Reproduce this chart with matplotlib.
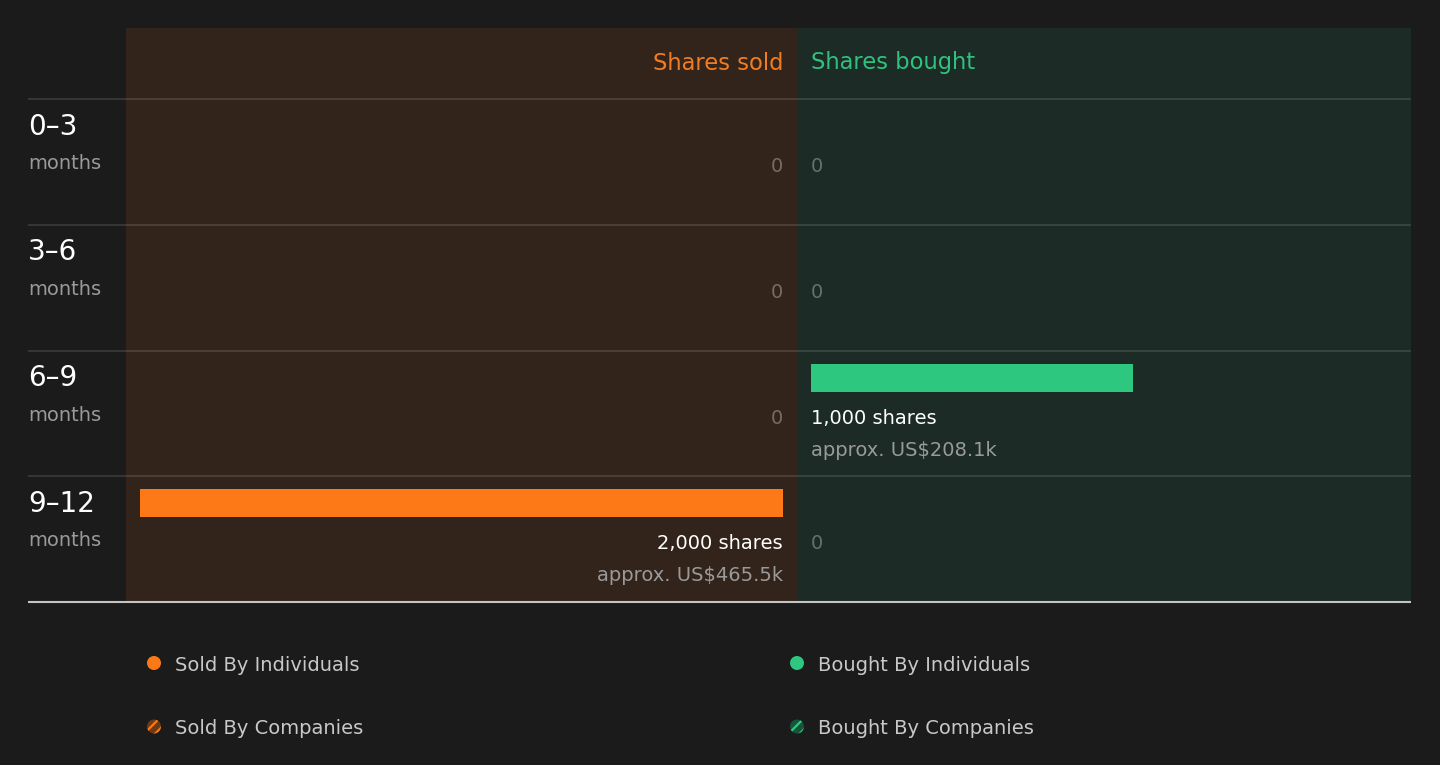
import matplotlib
matplotlib.use("Agg")
import matplotlib.pyplot as plt
from matplotlib.patches import Circle

# данные
periods = ["0–3", "3–6", "6–9", "9–12"]
sold_shares = [0, 0, 0, 2000]
bought_shares = [0, 0, 1000, 0]
sold_value = ["", "", "", "approx. US$465.5k"]
bought_value = ["", "", "approx. US$208.1k", ""]
legend_labels = ["Sold By Individuals", "Bought By Individuals",
                 "Sold By Companies", "Bought By Companies"]

BG = "#1b1b1b"
SOLD_BG = "#33241b"
BOUGHT_BG = "#1c2b25"
ORANGE = "#fd7918"
ORANGE_TXT = "#f07d22"
GREEN = "#2ec77f"
GREEN_TXT = "#2ec27e"

W, H = 1440, 765
plt.rcParams["font.family"] = ["DejaVu Sans"]
plt.rcParams["hatch.linewidth"] = 1.6

fig = plt.figure(figsize=(W / 100, H / 100), dpi=100, facecolor=BG)


def rect(left, top, right, bottom):
    return [left / W, 1 - bottom / H, (right - left) / W, (bottom - top) / H]


top, head_bot, bot = 28, 99, 602
row_h = (bot - head_bot) / len(periods)
head_u = (head_bot - top) / row_h
pad = 14
bar_span = 643
scale = bar_span / max(sold_shares + bought_shares)

ax_s = fig.add_axes(rect(126, top, 797, bot))
ax_b = fig.add_axes(rect(797, top, 1411, bot))
ax_s.set_xlim((797 - 126 - pad) / scale, -pad / scale)
ax_b.set_xlim(-pad / scale, (1411 - 797 - pad) / scale)

for ax, bg in ((ax_s, SOLD_BG), (ax_b, BOUGHT_BG)):
    ax.set_facecolor(bg)
    ax.set_ylim(len(periods), -head_u)
    ax.axis("off")
    ax.add_patch(plt.Rectangle((0, 0), 1, 1, transform=ax.transAxes,
                               color=bg, zorder=0))

u = 1 / row_h
ax_s.barh([i + 13 * u for i in range(len(periods))], sold_shares,
          height=28 * u, align="edge", color=ORANGE, zorder=2)
ax_b.barh([i + 13 * u for i in range(len(periods))], bought_shares,
          height=28 * u, align="edge", color=GREEN, zorder=2)

ax_s.text(0, -(head_bot - 69.5) * u, "Shares sold", ha="right", va="baseline",
          fontsize=16.3, color=ORANGE_TXT)
ax_b.text(0, -(head_bot - 69.5) * u, "Shares bought", ha="left", va="baseline",
          fontsize=16.3, color=GREEN_TXT)

for ax, vals, money, ha in ((ax_s, sold_shares, sold_value, "right"),
                            (ax_b, bought_shares, bought_value, "left")):
    for i, v in enumerate(vals):
        if v == 0:
            ax.text(0, i + 73 * u, "0", ha=ha, va="baseline", fontsize=14,
                    color="white", alpha=0.33)
        else:
            ax.text(0, i + 73 * u, f"{v:,} shares", ha=ha, va="baseline",
                    fontsize=14, color="white")
            ax.text(0, i + 105 * u, money[i], ha=ha, va="baseline",
                    fontsize=14, color="#9a9a9a")

# верхний слой: подписи строк, линии, легенда
ov = fig.add_axes([0, 0, 1, 1], zorder=10)
ov.set_xlim(0, W)
ov.set_ylim(H, 0)
ov.axis("off")
ov.patch.set_alpha(0)

for i, p in enumerate(periods):
    y0 = head_bot + i * row_h
    ov.hlines(y0, 28, 1411, color="white", alpha=0.13, lw=1.3)
    ov.text(28, y0 + 35.5, p, fontsize=20, color="white", va="baseline")
    ov.text(28, y0 + 70, "months", fontsize=14, color="#9a9a9a", va="baseline")
ov.hlines(bot, 28, 1411, color="#c4c4c4", lw=1.5)

leg_pos = [(154, 663), (797, 663), (154, 726.5), (797, 726.5)]
leg_col = [ORANGE, GREEN, ORANGE, GREEN]
for k, (lab, (x, y), c) in enumerate(zip(legend_labels, leg_pos, leg_col)):
    if k < 2:
        ov.add_patch(Circle((x, y), 7, color=c, lw=0))
    else:
        dark = "#6e3a14" if c == ORANGE else "#17523a"
        ov.add_patch(Circle((x, y), 7, facecolor=dark, edgecolor=c,
                            hatch="///", lw=0))
    ov.text(x + 21, y + 8, lab, fontsize=14, color="#c8c8c8", va="baseline")

fig.savefig("out.png", dpi=100, facecolor=BG)
